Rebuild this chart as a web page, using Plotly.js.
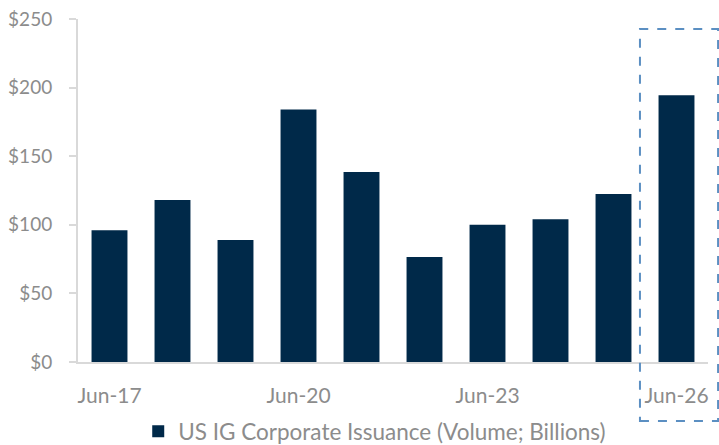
<!DOCTYPE html>
<html><head><meta charset="utf-8">
<script src="https://cdn.plot.ly/plotly-3.0.1.min.js"></script>
<style>html,body{margin:0;padding:0;background:#fff}#c{width:719px;height:445px}</style>
</head><body><div id="c"></div>
<script>
const categories = ['Jun-17','Jun-18','Jun-19','Jun-20','Jun-21','Jun-22','Jun-23','Jun-24','Jun-25','Jun-26'];
const issuance = [96, 118, 89, 184, 138.5, 76.5, 100, 104, 122.5, 194.5];
const xTickLabels = ['Jun-17','Jun-20','Jun-23','Jun-26'];
const yTickVals = [0, 50, 100, 150, 200, 250];
const seriesName = 'US IG Corporate Issuance (Volume; Billions)';

const FONT = 'Lato, "Source Sans Pro", sans-serif';
const GREY = '#8c8c8c';

Plotly.newPlot('c', [{
  type: 'bar', x: categories, y: issuance, name: seriesName,
  marker: {color: '#002949'}, showlegend: true
}], {
  width: 719, height: 445,
  margin: {l: 78, r: 11, t: 19, b: 83, autoexpand: false},
  paper_bgcolor: '#fff', plot_bgcolor: '#fff',
  bargap: 0.43,
  font: {family: FONT, color: GREY, size: 19},
  xaxis: {
    type: 'category', categoryorder: 'array', categoryarray: categories,
    tickmode: 'array', tickvals: xTickLabels, ticktext: xTickLabels,
    showline: true, linecolor: '#d9d9d9', linewidth: 2, ticks: '',
    showgrid: false, zeroline: false, ticklabelstandoff: 14, automargin: false,
    tickfont: {family: FONT, color: GREY, size: 21}
  },
  yaxis: {
    range: [0, 250], tickmode: 'array', tickvals: yTickVals,
    ticktext: yTickVals.map(v => '$' + v),
    showline: true, linecolor: '#d9d9d9', linewidth: 2,
    ticks: 'outside', ticklen: 7, tickcolor: '#d9d9d9', tickwidth: 2,
    showgrid: false, zeroline: false, ticklabelstandoff: 13, automargin: false,
    tickfont: {family: FONT, color: GREY, size: 19}
  },
  legend: {orientation: 'h', x: 0.471, xanchor: 'center', yref: 'container', y: 0.03, yanchor: 'middle',
    font: {family: FONT, color: GREY, size: 22.5}},
  shapes: [{type: 'rect', xref: 'paper', yref: 'paper',
    x0: 0.892, x1: 1.016, y0: -0.172, y1: 0.971,
    line: {color: '#5b8fc2', width: 2, dash: 'dash'}}]
}, {displayModeBar: false, staticPlot: true});
</script></body></html>
